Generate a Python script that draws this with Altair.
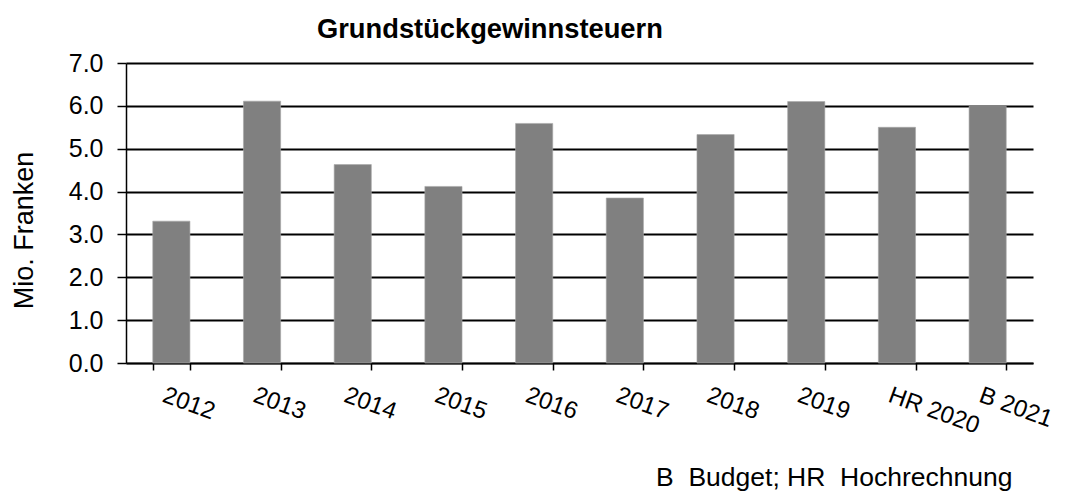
import altair as alt
import pandas as pd

categories = ["2012", "2013", "2014", "2015", "2016", "2017", "2018", "2019", "HR 2020", "B 2021"]
values = [3.31, 6.11, 4.63, 4.12, 5.59, 3.85, 5.33, 6.10, 5.50, 5.99]
y_ticks = [0, 1, 2, 3, 4, 5, 6, 7]
title_text = "Grundstückgewinnsteuern"
y_title = "Mio. Franken"
footnote = "B\u00a0\u00a0Budget; HR\u00a0\u00a0Hochrechnung"

df = pd.DataFrame({"Jahr": categories, "Wert": values})
FONT = "Liberation Sans"

bars = alt.Chart(df).mark_bar(color="#808080", stroke="#a8a8a8", strokeWidth=0.6).encode(
    x=alt.X(
        "Jahr:N",
        sort=categories,
        scale=alt.Scale(paddingInner=0.59, paddingOuter=0.295),
        axis=alt.Axis(
            title=None,
            labelAngle=20,
            labelAlign="left",
            labelBaseline="top",
            labelPadding=13,
            labelOffset=-4,
            labelFontSize=24,
            labelFont=FONT,
            labelColor="#000000",
            tickBand="extent",
            tickSize=7,
            tickColor="#000000",
            tickWidth=1.5,
            domainColor="#000000",
            domainWidth=1.5,
            grid=False,
        ),
    ),
    y=alt.Y(
        "Wert:Q",
        scale=alt.Scale(domain=[0, 7], nice=False),
        axis=alt.Axis(
            title=y_title,
            values=y_ticks,
            format=".1f",
            labelFontSize=25,
            labelFont=FONT,
            labelColor="#000000",
            labelPadding=14,
            tickSize=9,
            tickColor="#000000",
            tickWidth=1.5,
            domainColor="#000000",
            domainWidth=1.5,
            gridColor="#000000",
            gridWidth=1.8,
            gridOpacity=1,
            titleFont=FONT,
            titleFontSize=27,
            titleFontWeight="normal",
            titleColor="#000000",
            titlePadding=30,
            titleY=167,
        ),
    ),
)

title_layer = alt.Chart(pd.DataFrame({"t": [title_text]})).mark_text(
    align="left", baseline="alphabetic", fontSize=27.3, fontWeight="bold", font=FONT, color="#000000"
).encode(text="t:N", x=alt.value(191), y=alt.value(-25))

note = alt.Chart(pd.DataFrame({"t": [footnote]})).mark_text(
    align="left", baseline="alphabetic", fontSize=26.5, font=FONT, color="#000000"
).encode(text="t:N", x=alt.value(530), y=alt.value(423))

chart = alt.layer(bars, title_layer, note).properties(
    width=907,
    height=300,
    autosize=alt.AutoSizeParams(type="none"),
    padding={"left": 118, "top": 55, "right": 27, "bottom": 128},
).configure_view(stroke=None)

chart.save("out.html", embed_options={"renderer": "svg", "actions": False})
